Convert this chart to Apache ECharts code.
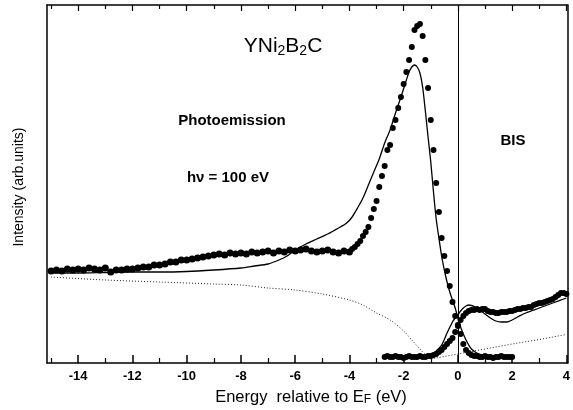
<!DOCTYPE html>
<html>
<head>
<meta charset="utf-8">
<script src="https://cdn.jsdelivr.net/npm/echarts@6/dist/echarts.min.js"></script>
<style>html,body{margin:0;padding:0;background:#fff}#c{width:573px;height:410px}</style>
</head>
<body>
<div id="c"></div>
<script>
// ---- data (energy in eV, intensity in arbitrary units) ----
const xMin = -15.15, xMax = 4.04;
const yMin = 0, yMax = 358;
const majorTicks = [-14,-12,-10,-8,-6,-4,-2,0,2,4];
const minorTicks = [-15,-13,-11,-9,-7,-5,-3,-1,1,3];

// Photoemission measured points
const peDotE = [-15,-14.8,-14.6,-14.4,-14.2,-14,-13.8,-13.6,-13.4,-13.2,-13,-12.8,-12.6,-12.4,-12.2,-12,-11.8,-11.6,-11.4,-11.2,-11,-10.8,-10.6,-10.4,-10.2,-10,-9.8,-9.6,-9.4,-9.2,-9,-8.8,-8.6,-8.4,-8.2,-8,-7.8,-7.6,-7.4,-7.2,-7,-6.8,-6.6,-6.4,-6.2,-6,-5.8,-5.6,-5.4,-5.2,-5,-4.8,-4.6,-4.4,-4.2,-4,
 -3.9,-3.8,-3.7,-3.6,-3.5,-3.4,-3.3,-3.2,-3.1,-3,-2.9,-2.8,-2.7,-2.6,-2.5,-2.4,-2.3,-2.2,-2.1,-2,-1.9,-1.8,-1.7,-1.6,-1.5,-1.4,
 -1.3,-1.2,-1.1,-1,-0.9,-0.8,-0.7,-0.6,-0.5,-0.4,-0.3,-0.2,-0.1,0,0.1,0.2,0.3,0.4,0.5,0.6,0.7,
 0.8,0.9,1,1.1,1.2,1.3,1.4,1.5,1.6,1.7,1.8,1.9,2];
const peDotI = [92,93,92,94,93,94,93,95,94,93,95,91,93,93,94,94,95,96,96,98,98,99,101,101,103,103,104,105,106,107,108,109,108,110,109,110,109,111,110,111,112,110,112,111,113,112,113,114,112,111,112,113,111,110,112,111,
 114,116,119,122,127,131,136,145,154,162,176,187,197,213,218,235,243,255,266,279,291,303,316,333,337,339,
 327,303,275,243,213,180,151,125,107,92,77,61,47,37,29,19,13,10,8,7,7,
 6,6,7,6,6,5,6,6,7,6,6,6,6];

// Photoemission calculated curve
const peFitE = [-15,-14,-13,-12,-11,-10,-9,-8,-7.5,-7,-6.6,-6.3,-6,-5.6,-5.2,-4.8,-4.4,-4.1,-3.9,-3.7,-3.5,-3.3,-3.1,-2.9,-2.7,-2.5,-2.3,-2.1,-1.9,-1.8,-1.7,-1.6,-1.5,-1.4,-1.3,-1.2,-1.1,-1,-0.9,-0.8,-0.7,-0.6,-0.5,-0.4,-0.3,-0.2,-0.1,0,0.1,0.2,0.3,0.4,0.5,0.7,1,1.5,2];
const peFitI = [90,90,90.5,91,91,91.5,93,95,97,99,103,107,113,119,124,129,135,140,146,155,165,178,191,204,220,233,250,266,283,291,296,298,296,290,276,252,226,201,171,144,125,107,93,81,71,63,55,45,36,29,23,18,14,10,7.5,6,5];

// Photoemission background (dotted)
const peBgE = [-15,-13,-11,-9,-8,-7,-6,-5,-4,-3.5,-3,-2.5,-2,-1.7,-1.5,-1.3,-1.1,-1];
const peBgI = [86,83,81,79,78,75,73,69,63,58,50,43,32,23,17,11,6,4];

// BIS measured points
const bisDotE = [-2.7,-2.6,-2.5,-2.4,-2.3,-2.2,-2.1,-2,-1.9,-1.8,-1.7,-1.6,-1.5,-1.4,-1.3,-1.2,-1.1,-1,
 -0.9,-0.8,-0.7,-0.6,-0.5,-0.4,-0.3,-0.2,-0.1,0,0.1,0.2,0.3,0.4,0.5,0.6,0.7,0.8,0.9,1,1.1,1.2,1.3,1.4,1.5,1.6,1.7,1.8,1.9,2,
 2.1,2.2,2.3,2.4,2.5,2.6,2.7,2.8,2.9,3,3.1,3.2,3.3,3.4,3.5,3.6,3.7,3.8,3.9,4];
const bisDotI = [6,7,6,6,7,6,6,5,6,7,6,6,6,7,6,6,7,7,
 8,9,11,13,16,19,22,25,31,38,43,47,50,52,53,53,54,53,54,54,52,51,51,50,50,51,51,51,52,52,
 53,54,54,55,55,56,56,58,59,60,60,61,62,63,64,66,68,70,70,69];

// BIS calculated curve
const bisFitE = [-1.5,-1,-0.8,-0.6,-0.4,-0.2,-0.1,0,0.1,0.2,0.3,0.4,0.5,0.6,0.8,1,1.2,1.4,1.6,1.8,2,2.2,2.5,3,3.5,4];
const bisFitI = [5,8,12,18,30,41,45,48,52,55,57,58,57.5,56.5,53,49,45,42,41,41,43,46,50,55,60,65];

// BIS background (dotted)
const bisBgE = [-1,0,1,2,3,4];
const bisBgI = [4,9,14,19,23.5,28.5];

const zip = (a, b) => a.map((v, i) => [v, b[i]]);
const FONT = '"Liberation Sans", Arial, Helvetica, sans-serif';

const chart = echarts.init(document.getElementById('c'), null, {renderer: 'canvas'});
const baseX = {type: 'value', min: xMin, max: xMax, gridIndex: 0, splitLine: {show: false}};
chart.setOption({
  animation: false,
  backgroundColor: '#fff',
  grid: {left: 47, right: 2, top: 5, bottom: 47, containLabel: false},
  xAxis: [
    Object.assign({}, baseX, {position: 'bottom',
      axisLine: {show: true, onZero: false, lineStyle: {color: '#000', width: 1.5}},
      axisTick: {show: true, inside: true, length: 8, customValues: majorTicks, lineStyle: {color: '#000', width: 1.5}},
      axisLabel: {show: true, customValues: majorTicks, color: '#000', fontSize: 13, fontWeight: 'bold', fontFamily: FONT, margin: 7}}),
    Object.assign({}, baseX, {position: 'bottom',
      axisLine: {show: false, onZero: false},
      axisTick: {show: true, inside: true, length: 5, customValues: minorTicks, lineStyle: {color: '#000', width: 1.2}},
      axisLabel: {show: false}}),
    Object.assign({}, baseX, {position: 'top',
      axisLine: {show: true, onZero: false, lineStyle: {color: '#000', width: 1.5}},
      axisTick: {show: true, inside: true, length: 6, customValues: majorTicks, lineStyle: {color: '#000', width: 1.2}},
      axisLabel: {show: false}}),
    Object.assign({}, baseX, {position: 'top',
      axisLine: {show: false, onZero: false},
      axisTick: {show: true, inside: true, length: 4, customValues: minorTicks, lineStyle: {color: '#000', width: 1.2}},
      axisLabel: {show: false}})
  ],
  yAxis: [
    {type: 'value', min: yMin, max: yMax, position: 'left',
      axisLine: {show: true, onZero: false, lineStyle: {color: '#000', width: 1.5}},
      axisTick: {show: false}, axisLabel: {show: false}, splitLine: {show: false}},
    {type: 'value', min: yMin, max: yMax, position: 'right',
      axisLine: {show: true, onZero: false, lineStyle: {color: '#000', width: 1.5}},
      axisTick: {show: false}, axisLabel: {show: false}, splitLine: {show: false}}
  ],
  series: [
    {type: 'line', name: 'PE background', data: zip(peBgE, peBgI), showSymbol: false, symbol: 'none', smooth: 0.3,
      lineStyle: {color: '#222', width: 1, type: [1, 2]},
      markLine: {silent: true, symbol: 'none', label: {show: false},
        lineStyle: {color: '#000', width: 1, type: 'solid'}, data: [{xAxis: 0}]}},
    {type: 'line', name: 'BIS background', data: zip(bisBgE, bisBgI), showSymbol: false, symbol: 'none',
      lineStyle: {color: '#222', width: 1, type: [1, 2]}},
    {type: 'line', name: 'PE fit', data: zip(peFitE, peFitI), showSymbol: false, symbol: 'none', smooth: 0.25,
      lineStyle: {color: '#000', width: 1.3}},
    {type: 'line', name: 'BIS fit', data: zip(bisFitE, bisFitI), showSymbol: false, symbol: 'none', smooth: 0.3,
      lineStyle: {color: '#000', width: 1.3}},
    {type: 'scatter', name: 'PE data', data: zip(peDotE, peDotI), symbol: 'circle',
      symbolSize: (v) => (v[0] <= -3.95 ? 7 : 6),
      itemStyle: {color: '#000', opacity: 1}},
    {type: 'scatter', name: 'BIS data', data: zip(bisDotE, bisDotI), symbol: 'circle', symbolSize: 6,
      itemStyle: {color: '#000', opacity: 1}}
  ],
  graphic: [
    {type: 'text', x: 283, y: 46, style: {
      text: '{m|YNi}{s|2}{m|B}{s|2}{m|C}', align: 'center', verticalAlign: 'middle',
      rich: {m: {fontSize: 21, fontFamily: FONT, fill: '#000', verticalAlign: 'bottom'},
             s: {fontSize: 14, fontFamily: FONT, fill: '#000', verticalAlign: 'bottom', padding: [0, 0, -2, 0]}}}},
    {type: 'text', x: 232, y: 121, style: {text: 'Photoemission', align: 'center', verticalAlign: 'middle',
      font: 'bold 15px ' + FONT, fill: '#000'}},
    {type: 'text', x: 228, y: 178, style: {text: 'hν = 100 eV', align: 'center', verticalAlign: 'middle',
      font: 'bold 15px ' + FONT, fill: '#000'}},
    {type: 'text', x: 513, y: 141, style: {text: 'BIS', align: 'center', verticalAlign: 'middle',
      font: 'bold 15px ' + FONT, fill: '#000'}},
    {type: 'text', x: 19, y: 187, rotation: Math.PI / 2, style: {text: 'Intensity (arb.units)', align: 'center', verticalAlign: 'middle',
      font: '14px ' + FONT, fill: '#000'}},
    {type: 'text', x: 311, y: 397, style: {
      text: '{m|Energy  relative to E}{s|F}{m| (eV)}', align: 'center', verticalAlign: 'middle',
      rich: {m: {fontSize: 16.5, fontFamily: FONT, fill: '#000', verticalAlign: 'bottom'},
             s: {fontSize: 12, fontFamily: FONT, fill: '#000', verticalAlign: 'bottom'}}}}
  ]
});
</script>
</body>
</html>
